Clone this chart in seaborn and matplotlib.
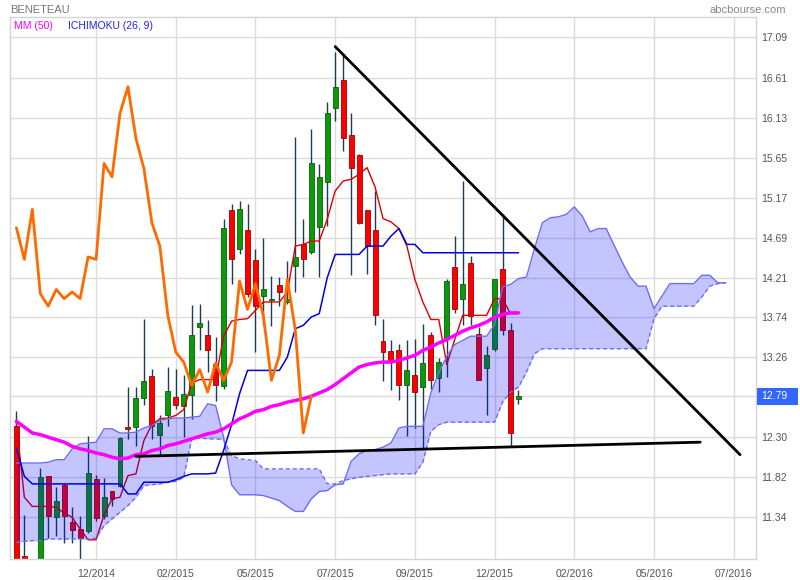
import matplotlib
matplotlib.use("Agg")
import matplotlib.pyplot as plt
import matplotlib.transforms as mtransforms
from matplotlib.patches import Rectangle
import seaborn as sns

# weekly candles (index 0 = first visible week)
opens = [12.43, 10.88, 10.70, 10.60, 11.83, 11.34, 11.73, 11.28, 11.20, 11.17,
         11.80, 11.36, 11.65, 11.71, 12.42, 12.42, 12.77, 13.03, 12.33, 12.56,
         12.78, 12.67, 12.81, 13.62, 13.52, 13.18, 12.91, 15.02, 14.56, 14.78,
         14.42, 13.99, 13.94, 14.12, 13.92, 14.35, 14.62, 14.52, 14.82, 15.36,
         16.25, 16.58, 15.92, 15.68, 15.02, 14.78, 13.45, 13.33, 13.34, 12.92,
         13.04, 12.90, 13.52, 13.01, 13.49, 14.34, 13.96, 14.39, 13.54, 13.13,
         13.36, 14.32, 13.58, 12.76]
highs = [12.61, 11.37, 10.80, 11.93, 11.84, 11.70, 11.74, 11.46, 11.36, 12.31,
         11.85, 11.81, 11.66, 12.30, 12.90, 12.90, 13.72, 13.12, 12.57, 13.14,
         13.12, 13.05, 13.88, 13.89, 13.70, 13.50, 14.92, 15.09, 15.13, 15.10,
         14.55, 14.69, 14.23, 14.22, 14.41, 15.90, 14.91, 15.99, 15.57, 16.32,
         16.91, 16.90, 16.18, 15.69, 15.02, 15.25, 13.72, 13.46, 13.42, 13.46,
         13.48, 13.66, 13.56, 13.25, 14.19, 14.71, 15.37, 14.47, 13.62, 13.39,
         14.20, 14.98, 13.67, 12.86]
lows = [10.75, 10.60, 9.81, 10.53, 11.09, 11.12, 11.03, 11.03, 10.80, 11.15,
        11.30, 11.32, 11.48, 11.70, 12.28, 12.20, 12.68, 12.28, 12.08, 12.43,
        12.64, 12.30, 12.52, 13.34, 13.08, 12.73, 12.88, 14.13, 14.50, 13.98,
        13.32, 13.64, 13.63, 13.87, 13.90, 14.04, 14.22, 14.50, 14.22, 14.83,
        16.09, 15.73, 14.24, 14.85, 14.25, 13.64, 12.97, 12.87, 12.74, 12.31,
        12.41, 12.16, 12.88, 12.84, 13.02, 13.79, 13.64, 13.64, 12.98, 12.56,
        13.33, 13.52, 12.18, 12.70]
closes = [10.80, 10.70, 10.20, 11.82, 11.36, 11.53, 11.35, 11.19, 11.09, 11.87,
          11.33, 11.58, 11.56, 12.29, 12.40, 12.77, 12.97, 12.43, 12.47, 12.85,
          12.69, 12.82, 13.52, 13.67, 13.35, 12.92, 14.81, 14.43, 15.03, 14.02,
          13.87, 14.07, 13.96, 14.04, 13.96, 14.46, 14.43, 15.58, 15.42, 16.18,
          16.50, 15.88, 15.52, 14.87, 14.59, 13.76, 13.32, 13.20, 12.92, 13.11,
          12.84, 13.19, 12.98, 13.20, 14.17, 13.83, 14.14, 13.75, 12.98, 13.28,
          14.19, 13.58, 12.35, 12.79]

# Ichimoku (26, 9)
tenkan = [12.47, 11.58, 11.47, 11.47, 11.47, 11.46, 11.39, 11.34, 11.20, 11.07,
          11.07, 11.37, 11.56, 11.58, 11.84, 11.86, 12.26, 12.45, 12.52, 12.53,
          12.56, 12.63, 12.95, 12.99, 12.99, 12.99, 13.51, 13.69, 13.71, 13.72,
          13.82, 13.92, 13.92, 13.92, 14.04, 14.59, 14.61, 14.65, 14.65, 14.91,
          15.25, 15.37, 15.39, 15.45, 15.53, 15.30, 14.92, 14.88, 14.80, 14.59,
          14.19, 13.92, 13.71, 13.71, 13.17, 13.47, 13.76, 13.76, 13.76, 13.76,
          13.96, 13.96, 13.78, 13.78]
kijun = [12.17, 11.83, 11.74, 11.74, 11.74, 11.74, 11.74, 11.74, 11.74, 11.74,
         11.74, 11.74, 11.74, 11.74, 11.62, 11.62, 11.76, 11.76, 11.76, 11.76,
         11.79, 11.83, 11.86, 11.86, 11.86, 11.87, 12.14, 12.45, 12.82, 13.10,
         13.10, 13.10, 13.10, 13.10, 13.26, 13.60, 13.64, 13.74, 13.78, 14.21,
         14.49, 14.49, 14.49, 14.49, 14.59, 14.59, 14.59, 14.71, 14.80, 14.61,
         14.61, 14.51, 14.51, 14.51, 14.51, 14.51, 14.51, 14.51, 14.51, 14.51,
         14.51, 14.51, 14.51, 14.51]
senkou_a = [11.99, 11.99, 11.99, 11.99, 12.00, 12.03, 12.03, 12.16, 12.22, 12.23,
            12.24, 12.40, 12.40, 12.35, 12.35, 12.36, 12.41, 12.44, 12.50, 12.52,
            12.53, 12.53, 12.54, 12.55, 12.70, 12.68, 12.30, 11.73, 11.61, 11.61,
            11.61, 11.60, 11.57, 11.54, 11.47, 11.41, 11.41, 11.56, 11.65, 11.66,
            11.73, 11.74, 12.01, 12.10, 12.14, 12.15, 12.18, 12.23, 12.41, 12.43,
            12.43, 12.43, 12.83, 13.07, 13.27, 13.41, 13.46, 13.51, 13.51, 13.51,
            13.65, 14.10, 14.13, 14.20, 14.22, 14.56, 14.87, 14.93, 14.94, 14.97,
            15.06, 14.95, 14.76, 14.80, 14.80, 14.60, 14.40, 14.22, 14.11, 14.11,
            13.84, 13.99, 14.14, 14.14, 14.14, 14.14, 14.24, 14.24, 14.15, 14.15]
senkou_b = [11.04, 11.05, 11.06, 11.06, 11.08, 11.08, 11.08, 11.08, 11.08, 11.08,
            11.09, 11.24, 11.32, 11.40, 11.48, 11.58, 11.72, 11.73, 11.74, 11.76,
            11.77, 11.82, 12.28, 12.29, 12.28, 12.28, 12.27, 12.08, 12.04, 12.03,
            12.02, 11.92, 11.92, 11.92, 11.92, 11.92, 11.92, 11.92, 11.92, 11.74,
            11.74, 11.78, 11.80, 11.82, 11.83, 11.84, 11.85, 11.86, 11.86, 11.86,
            11.86, 12.00, 12.37, 12.45, 12.48, 12.48, 12.48, 12.48, 12.48, 12.48,
            12.48, 12.72, 12.84, 12.90, 13.08, 13.30, 13.36, 13.36, 13.36, 13.36,
            13.36, 13.36, 13.36, 13.36, 13.36, 13.36, 13.36, 13.36, 13.36, 13.36,
            13.72, 13.87, 13.87, 13.87, 13.87, 13.87, 13.98, 14.11, 14.14, 14.15]
chikou = [14.81, 14.43, 15.03, 14.02, 13.87, 14.07, 13.96, 14.04, 13.96, 14.46,
          14.43, 15.58, 15.42, 16.18, 16.50, 15.88, 15.52, 14.87, 14.59, 13.76,
          13.32, 13.20, 12.92, 13.11, 12.84, 13.19, 12.98, 13.20, 14.17, 13.83,
          14.14, 13.75, 12.98, 13.28, 14.19, 13.58, 12.35, 12.79]

# MM (50)
mm50 = [12.49, 12.42, 12.35, 12.33, 12.30, 12.27, 12.24, 12.19, 12.16, 12.14,
        12.11, 12.09, 12.06, 12.04, 12.05, 12.09, 12.10, 12.14, 12.16, 12.20,
        12.22, 12.25, 12.28, 12.31, 12.34, 12.36, 12.40, 12.46, 12.52, 12.56,
        12.61, 12.63, 12.67, 12.69, 12.72, 12.74, 12.76, 12.79, 12.83, 12.87,
        12.93, 13.00, 13.07, 13.14, 13.17, 13.19, 13.20, 13.20, 13.22, 13.25,
        13.28, 13.34, 13.38, 13.43, 13.47, 13.52, 13.57, 13.61, 13.64, 13.68,
        13.74, 13.77, 13.79, 13.79]

# hand-drawn trend lines (week index, price)
resistance_x = [40, 90.8]
resistance_y = [16.98, 12.09]
support_x = [15, 85.8]
support_y = [12.07, 12.24]

last_price = 12.79
x_ticks = [10, 20, 30, 40, 50, 60, 70, 80, 90]
x_labels = ["12/2014", "02/2015", "05/2015", "07/2015", "09/2015",
            "12/2015", "02/2016", "05/2016", "07/2016"]
y_labels = ["11.34", "11.82", "12.30", "12.79", "13.26", "13.74", "14.21",
            "14.69", "15.17", "15.65", "16.13", "16.61", "17.09"]

week = list(range(len(closes)))
cloud_week = list(range(len(senkou_a)))
lag_week = list(range(len(chikou)))

sns.set_theme(style="white")
plt.rcParams["font.family"] = ["Liberation Sans", "DejaVu Sans"]

fig = plt.figure(figsize=(8, 5.8), dpi=100)
ax = fig.add_axes([10 / 800, 21 / 580, 746 / 800, 542 / 580])

# candles
up = [c >= o for o, c in zip(opens, closes)]
ax.vlines(week, lows, highs, color="#1c3d52", lw=1, zorder=2)
ax.bar(week, [max(abs(c - o), 0.02) for o, c in zip(opens, closes)],
       bottom=[min(o, c) for o, c in zip(opens, closes)], width=0.62,
       color=["#0a9a0a" if u else "#ff0000" for u in up],
       edgecolor=["#0b5e0b" if u else "#a00000" for u in up],
       linewidth=0.6, zorder=2.2)

sns.lineplot(x=week, y=tenkan, ax=ax, color="#dd0000", lw=1, zorder=2.5)

# cloud
ax.fill_between(cloud_week, senkou_a, senkou_b, color="#0000ff", alpha=0.23,
                lw=0, zorder=3)
sns.lineplot(x=cloud_week, y=senkou_a, ax=ax, color="#6d6df2", lw=1, zorder=3.5)
sns.lineplot(x=cloud_week, y=senkou_b, ax=ax, color="#6d6df2", lw=1,
             linestyle=(0, (3, 2)), zorder=3.5)

sns.lineplot(x=week, y=kijun, ax=ax, color="#0000e0", lw=1.1, zorder=4)
sns.lineplot(x=week, y=mm50, ax=ax, color="#ff00ff", lw=2.5, zorder=5)
sns.lineplot(x=lag_week, y=chikou, ax=ax, color="#ff6a00", lw=2, zorder=5)
sns.lineplot(x=resistance_x, y=resistance_y, ax=ax, color="black", lw=2, zorder=6)
sns.lineplot(x=support_x, y=support_y, ax=ax, color="black", lw=2, zorder=6)

ax.set_xlim(-0.8, 92.8)
ax.set_ylim(10.84, 17.335)
ax.set_xticks(x_ticks)
ax.set_xticklabels(x_labels)
ax.set_yticks([float(v) for v in y_labels])
ax.set_yticklabels(y_labels)
ax.yaxis.tick_right()
ax.tick_params(axis="both", length=0, labelsize=7.5, labelcolor="#555555")
ax.tick_params(axis="x", pad=7)
ax.tick_params(axis="y", pad=4)
ax.set_xlabel("")
ax.set_ylabel("")
ax.grid(True, color="#dcdcdc", lw=1)
ax.set_axisbelow(True)
for s in ax.spines.values():
    s.set_color("#d4d4d4")
    s.set_linewidth(1)

# last price marker
trans = mtransforms.blended_transform_factory(ax.transAxes, ax.transData)
ax.add_patch(Rectangle((1.002, last_price - 0.1), 0.054, 0.2, transform=trans,
                       facecolor="#3366ff", edgecolor="none", clip_on=False,
                       zorder=10))
ax.text(1.0065, last_price, f"{last_price:.2f}", transform=trans, ha="left",
        va="center", color="white", fontsize=7.5, zorder=11, clip_on=False)

fig.text(10 / 800, 1 - 10 / 580, "BENETEAU", color="#777777", fontsize=8,
         ha="left", va="center")
fig.text(786 / 800, 1 - 10 / 580, "abcbourse.com", color="#888888", fontsize=8,
         ha="right", va="center")
fig.text(14 / 800, 1 - 26 / 580, "MM (50)", color="#ff00ff", fontsize=7.5,
         ha="left", va="center")
fig.text(68 / 800, 1 - 26 / 580, "ICHIMOKU (26, 9)", color="#2222ee",
         fontsize=7.5, ha="left", va="center")

fig.savefig("out.png", dpi=100)
